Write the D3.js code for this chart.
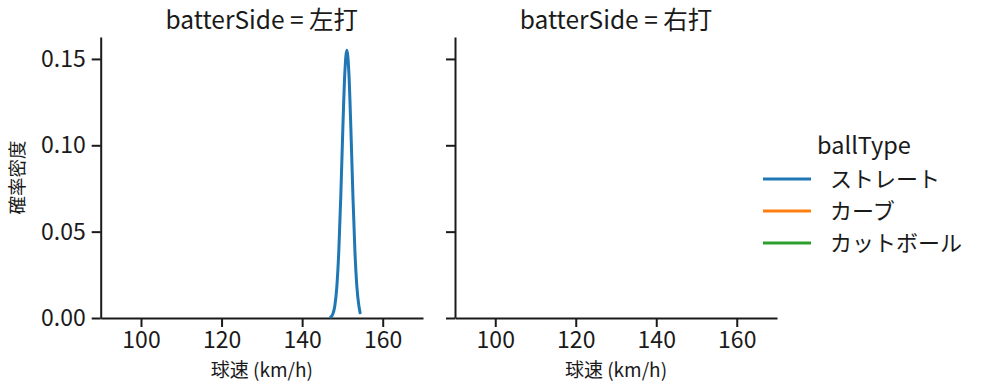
<!DOCTYPE html>
<html><head><meta charset="utf-8">
<script src="https://cdn.jsdelivr.net/npm/d3@7"></script>
<style>body{margin:0;background:#fff;} svg{display:block;} text{font-family:"Noto Sans CJK JP","Noto Sans",sans-serif;fill:#1a1a1a;}</style>
</head><body>
<svg id="c" width="985" height="391"></svg>
<script>
const panels = ["左打", "右打"];
const ballTypes = ["ストレート", "カーブ", "カットボール"];
const colors = ["#1f77b4", "#ff7f0e", "#2ca02c"];
const xTicks = [100, 120, 140, 160];
const yTicks = [0, 0.05, 0.10, 0.15];
// KDE of ストレート for 左打 (speed, density)
const speedL = [147.1,147.6,148.1,148.6,149.1,149.6,150.1,150.6,151.1,151.6,152.1,152.6,153.1,153.6,154.1,154.4];
const densL  = [0.0006,0.0022,0.0068,0.0177,0.0387,0.0710,0.1095,0.1421,0.1550,0.1421,0.1095,0.0710,0.0387,0.0177,0.0068,0.0030];

(function () {
const svg = d3.select("#c");
const plotTop = 37, plotBottom = 318;
const panelX = [[100.7, 423], [455, 777]];
const y = d3.scaleLinear().domain([0, 0.1627]).range([plotBottom, plotTop]);

panels.forEach((p, i) => {
  const x = d3.scaleLinear().domain([90, 170]).range(panelX[i]);
  const g = svg.append("g");
  const xa = g.append("g").attr("transform", `translate(0,${plotBottom})`)
    .call(d3.axisBottom(x).tickValues(xTicks).tickSize(9).tickPadding(5).tickSizeOuter(0));
  xa.select(".domain").attr("stroke", "#1a1a1a").attr("stroke-width", 2);
  xa.selectAll(".tick line").attr("stroke", "#1a1a1a").attr("stroke-width", 2);
  xa.selectAll(".tick text").attr("font-size", 23).style("fill", "#1a1a1a");
  const ya = g.append("g").attr("transform", `translate(${panelX[i][0]},0)`)
    .call(d3.axisLeft(y).tickValues(yTicks).tickSize(9).tickPadding(6).tickSizeOuter(0)
      .tickFormat(i === 0 ? d3.format(".2f") : () => ""));
  ya.select(".domain").attr("stroke", "#1a1a1a").attr("stroke-width", 2);
  ya.selectAll(".tick line").attr("stroke", "#1a1a1a").attr("stroke-width", 2);
  ya.selectAll(".tick text").attr("font-size", 23).style("fill", "#1a1a1a");
  g.append("text").attr("x", (panelX[i][0] + panelX[i][1]) / 2).attr("y", 29)
    .attr("text-anchor", "middle").attr("font-size", 24.5).text(`batterSide = ${p}`);
  g.append("text").attr("x", (panelX[i][0] + panelX[i][1]) / 2).attr("y", 377)
    .attr("text-anchor", "middle").attr("font-size", 19).text("球速 (km/h)");
  if (i === 0) {
    const data = speedL.map((s, k) => [s, densL[k]]);
    g.append("path").datum(data)
      .attr("fill", "none").attr("stroke", colors[0]).attr("stroke-width", 3)
      .attr("stroke-linejoin", "round").attr("stroke-linecap", "round")
      .attr("d", d3.line().x(d => x(d[0])).y(d => y(d[1])).curve(d3.curveMonotoneX));
  }
});
svg.append("text").attr("transform", `translate(24,${(plotTop + plotBottom) / 2}) rotate(-90)`)
  .attr("text-anchor", "middle").attr("font-size", 18.5).text("確率密度");

const lg = svg.append("g");
lg.append("text").attr("x", 864).attr("y", 154).attr("text-anchor", "middle").attr("font-size", 23.5).text("ballType");
ballTypes.forEach((b, k) => {
  const yy = 179 + k * 32;
  lg.append("line").attr("x1", 763).attr("x2", 811).attr("y1", yy).attr("y2", yy)
    .attr("stroke", colors[k]).attr("stroke-width", 3);
  lg.append("text").attr("x", 830).attr("y", yy + 8).attr("font-size", 22).text(b);
});
})();
</script>
</body></html>
